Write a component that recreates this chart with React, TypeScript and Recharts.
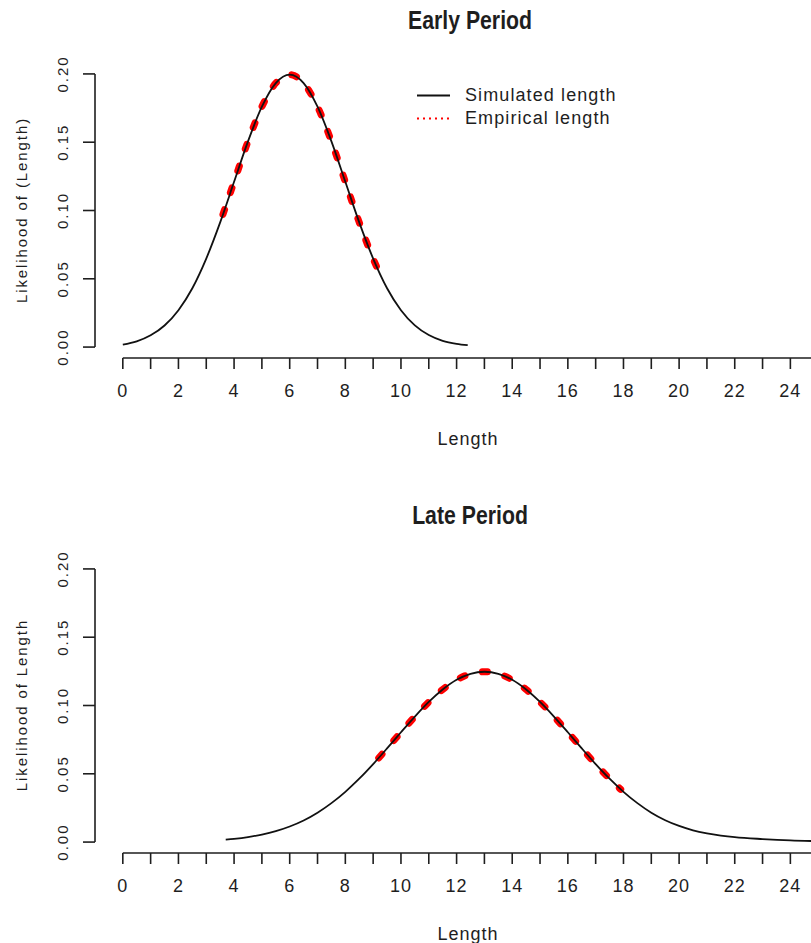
import { LineChart, Line, XAxis, YAxis, ReferenceLine, Legend } from 'recharts'

const FONT = "'Liberation Sans', Arial, sans-serif"
const INK = '#1e1e1e'

// Early period
const earlyLength = [0, 0.5, 1, 1.5, 2, 2.5, 3, 3.5, 4, 4.5, 5, 5.5, 6, 6.5, 7, 7.5, 8, 8.5, 9, 9.5, 10, 10.5, 11, 11.5, 12, 12.4]
const earlySimulated = [0.0018, 0.0042, 0.0086, 0.0158, 0.027, 0.0431, 0.0648, 0.0913, 0.121, 0.1506, 0.176, 0.1933, 0.1995, 0.1933, 0.176, 0.1506, 0.121, 0.0913, 0.0648, 0.0431, 0.027, 0.0159, 0.0088, 0.0046, 0.0024, 0.0014]
const earlyEmpLength = [3.6, 4, 4.5, 5, 5.5, 6, 6.5, 7, 7.5, 8, 8.5, 9, 9.2]
const earlyEmpirical = [0.0971, 0.121, 0.1506, 0.176, 0.1933, 0.1995, 0.1933, 0.176, 0.1506, 0.121, 0.0913, 0.0648, 0.0554]

// Late period
const lateLength = [3.7, 4, 4.5, 5, 5.5, 6, 6.5, 7, 7.5, 8, 8.5, 9, 9.5, 10, 10.5, 11, 11.5, 12, 12.5, 13, 13.5, 14, 14.5, 15, 15.5, 16, 16.5, 17, 17.5, 18, 18.5, 19, 19.5, 20, 20.5, 21, 21.5, 22, 23, 24, 25, 26]
const lateSimulated = [0.0018, 0.0024, 0.0037, 0.0055, 0.008, 0.0114, 0.0158, 0.0215, 0.0285, 0.0368, 0.0464, 0.0571, 0.0686, 0.0804, 0.0919, 0.1026, 0.1117, 0.1188, 0.1232, 0.1247, 0.1232, 0.1188, 0.1117, 0.1026, 0.0919, 0.0804, 0.0686, 0.0571, 0.0464, 0.0368, 0.0285, 0.0215, 0.016, 0.0118, 0.0086, 0.0064, 0.0048, 0.0036, 0.0022, 0.0012, 0.0007, 0.0004]
const lateEmpLength = [9.2, 9.5, 10, 10.5, 11, 11.5, 12, 12.5, 13, 13.5, 14, 14.5, 15, 15.5, 16, 16.5, 17, 17.5, 17.9]
const lateEmpirical = [0.0616, 0.0686, 0.0804, 0.0919, 0.1026, 0.1117, 0.1188, 0.1232, 0.1247, 0.1232, 0.1188, 0.1117, 0.1026, 0.0919, 0.0804, 0.0686, 0.0571, 0.0464, 0.0386]

const xTicks = [0, 1, 2, 3, 4, 5, 6, 7, 8, 9, 10, 11, 12, 13, 14, 15, 16, 17, 18, 19, 20, 21, 22, 23, 24, 25, 26]
const xLabels = [0, 2, 4, 6, 8, 10, 12, 14, 16, 18, 20, 22, 24]
const yTicks = [0, 0.05, 0.1, 0.15, 0.2]

const legendOrder = ['Simulated length', 'Empirical length']

const toRows = (xs: number[], ys: number[]) => xs.map((x, i) => ({ x, v: ys[i] }))

const XTick = ({ x, y, payload }: any) =>
  xLabels.includes(payload.value) ? (
    <text x={x} y={y + 26} textAnchor="middle" fontFamily={FONT} fontSize={18} letterSpacing={1} fill={INK}>
      {payload.value}
    </text>
  ) : (
    <g />
  )

const YTick = ({ x, y, payload }: any) => (
  <text
    x={x - 13}
    y={y}
    transform={`rotate(-90 ${x - 13} ${y})`}
    textAnchor="middle"
    fontFamily={FONT}
    fontSize={15}
    letterSpacing={2}
    fill={INK}
  >
    {payload.value.toFixed(2)}
  </text>
)

const renderLegend = ({ payload }: any) => {
  const items = [...(payload || [])].sort((a: any, b: any) => legendOrder.indexOf(a.value) - legendOrder.indexOf(b.value))
  return (
    <div>
      {items.map((entry: any) => {
        const dotted = entry.value === 'Empirical length'
        return (
          <div key={entry.value} style={{ display: 'flex', alignItems: 'center', height: 23 }}>
            <svg width={53} height={23}>
              <line
                x1={5}
                x2={38}
                y1={11.5}
                y2={11.5}
                stroke={entry.color}
                strokeWidth={dotted ? 2 : 1.8}
                strokeDasharray={dotted ? '2 4' : undefined}
              />
            </svg>
            <span style={{ fontFamily: FONT, fontSize: 18, letterSpacing: 1.1, color: INK, lineHeight: '23px' }}>
              {entry.value}
            </span>
          </div>
        )
      })}
    </div>
  )
}

function Panel({ title, yTitle, sim, emp, showLegend }: any) {
  return (
    <div style={{ position: 'relative', width: 860, height: 495 }}>
      <div
        style={{
          position: 'absolute',
          left: 0,
          top: 8,
          width: 940,
          textAlign: 'center',
          fontFamily: FONT,
          fontWeight: 'bold',
          fontSize: 25,
          lineHeight: '25px',
          color: INK,
          transform: 'scaleX(0.85)',
          transformOrigin: '470px 0',
        }}
      >
        {title}
      </div>
      <LineChart width={860} height={495} margin={{ top: 63, right: 14, bottom: 77, left: 20 }}>
        <XAxis
          type="number"
          dataKey="x"
          domain={[-1, 26]}
          ticks={xTicks}
          interval={0}
          axisLine={false}
          tickSize={11}
          stroke={INK}
          tickLine={{ stroke: INK, strokeWidth: 1.6 }}
          tick={<XTick />}
          height={60}
          label={{
            content: () => (
              <text x={468} y={445} textAnchor="middle" fontFamily={FONT} fontSize={18} letterSpacing={1} fill={INK}>
                Length
              </text>
            ),
          }}
        />
        <YAxis
          type="number"
          domain={[-0.008, 0.208]}
          ticks={yTicks}
          interval={0}
          axisLine={false}
          tickSize={12}
          stroke={INK}
          tickLine={{ stroke: INK, strokeWidth: 1.6 }}
          tick={<YTick />}
          width={75}
          label={{
            content: () => (
              <text
                x={27}
                y={210}
                transform="rotate(-90 27 210)"
                textAnchor="middle"
                fontFamily={FONT}
                fontSize={15}
                letterSpacing={1.9}
                fill={INK}
              >
                {yTitle}
              </text>
            ),
          }}
        />
        <ReferenceLine
          segment={[{ x: -1, y: 0 }, { x: -1, y: 0.2 }]}
          stroke={INK}
          strokeWidth={1.6}
          ifOverflow="visible"
        />
        <ReferenceLine
          segment={[{ x: 0, y: -0.008 }, { x: 26, y: -0.008 }]}
          stroke={INK}
          strokeWidth={1.6}
          ifOverflow="visible"
        />
        <Line
          data={emp}
          dataKey="v"
          name="Empirical length"
          type="monotone"
          stroke="#ff0000"
          strokeWidth={7}
          strokeDasharray="5 18"
          strokeLinecap="round"
          dot={false}
          activeDot={false}
          isAnimationActive={false}
        />
        <Line
          data={sim}
          dataKey="v"
          name="Simulated length"
          type="monotone"
          stroke="#111"
          strokeWidth={1.8}
          dot={false}
          activeDot={false}
          isAnimationActive={false}
        />
        {showLegend && (
          <Legend
            layout="horizontal"
            verticalAlign="middle"
            align="center"
            wrapperStyle={{ left: 412, top: 84, width: 260 }}
            content={renderLegend}
          />
        )}
      </LineChart>
    </div>
  )
}

export default function App() {
  return (
    <div style={{ position: 'absolute', left: 0, top: 0, width: 811, height: 943, overflow: 'hidden', background: '#fff' }}>
      <div style={{ position: 'absolute', left: 0, top: 0 }}>
        <Panel
          title="Early Period"
          yTitle="Likelihood of (Length)"
          sim={toRows(earlyLength, earlySimulated)}
          emp={toRows(earlyEmpLength, earlyEmpirical)}
          showLegend
        />
      </div>
      <div style={{ position: 'absolute', left: 0, top: 495 }}>
        <Panel
          title="Late Period"
          yTitle="Likelihood of Length"
          sim={toRows(lateLength, lateSimulated)}
          emp={toRows(lateEmpLength, lateEmpirical)}
        />
      </div>
    </div>
  )
}
